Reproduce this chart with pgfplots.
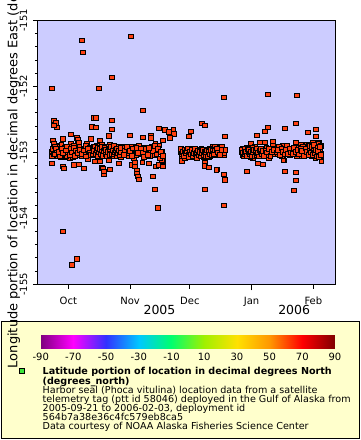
\documentclass[border=0pt]{standalone}
\usepackage{pgfplots}
\usepackage{pgfplotstable}
\pgfplotsset{compat=1.18}
\usepackage{fontspec}
\setmainfont{DejaVu Sans}
\definecolor{bgblue}{RGB}{204,204,255}
\definecolor{legyellow}{RGB}{255,255,204}
\definecolor{markred}{RGB}{255,64,16}
\definecolor{leggreen}{RGB}{60,230,60}

% day = days since 2005-10-01, lon = degrees East
\pgfplotstableread{
day lon
6.73 -151.303
7.38 -151.485
31.33 -151.242
-8.33 -152.030
15.26 -152.030
21.94 -151.864
37.35 -152.364
-7.33 -152.515
-6.02 -152.555
-5.67 -152.621
-7.33 -152.591
12.90 -152.474
13.91 -152.474
11.90 -152.615
13.75 -152.621
21.94 -152.515
21.94 -152.652
20.28 -152.747
30.82 -152.742
37.35 -152.773
41.52 -152.747
41.52 -152.785
45.38 -152.636
48.39 -152.656
50.55 -152.686
52.71 -152.652
53.06 -152.717
51.20 -152.782
47.54 -152.818
1.36 -152.727
-2.81 -152.797
-7.83 -152.818
-7.33 -152.868
4.37 -152.777
4.87 -152.815
5.37 -152.853
11.55 -152.797
9.54 -152.868
16.06 -152.818
-4.52 -152.894
-2.66 -152.918
1.36 -152.873
78.01 -152.167
100.10 -152.121
114.66 -152.136
61.60 -152.682
60.59 -152.758
67.12 -152.561
68.47 -152.591
78.66 -152.758
100.10 -152.621
98.74 -152.682
94.73 -152.742
108.78 -152.636
114.31 -152.561
120.33 -152.697
124.20 -152.652
124.20 -152.758
91.57 -152.864
96.23 -152.848
98.74 -152.848
102.76 -152.833
102.76 -152.894
107.78 -152.894
114.16 -152.848
116.82 -152.879
119.68 -152.879
125.70 -152.848
72.64 -152.909
75.65 -152.909
56.93 -152.955
-8.33 -153.167
-8.18 -152.985
-8.18 -153.061
-2.81 -153.212
-2.31 -153.242
3.87 -153.182
5.52 -153.182
2.71 -153.186
7.88 -153.242
9.74 -153.091
13.55 -153.136
15.91 -153.136
16.92 -153.236
17.42 -153.242
17.77 -153.323
18.07 -153.288
20.78 -153.258
20.28 -153.121
25.30 -153.167
31.98 -153.186
33.33 -153.152
33.33 -153.212
34.34 -153.273
34.34 -153.318
34.84 -153.364
35.49 -153.409
37.15 -153.152
40.51 -153.167
44.03 -153.212
45.38 -153.186
47.39 -153.212
47.39 -153.136
42.37 -153.364
43.67 -153.561
45.03 -153.848
-2.81 -154.197
4.37 -154.611
1.71 -154.712
57.08 -153.126
68.47 -153.152
68.27 -153.202
70.63 -153.227
70.63 -153.076
74.65 -153.258
74.30 -153.262
78.01 -153.333
78.51 -153.409
78.66 -153.414
68.47 -153.561
78.01 -153.803
89.71 -153.288
95.08 -153.167
97.59 -153.182
100.60 -153.091
108.28 -153.121
107.93 -153.111
108.63 -153.288
114.16 -153.303
114.16 -153.424
113.30 -153.576
127.01 -153.136
127.01 -153.061
75.5 -152.933
78.0 -153.035
78.3 -153.000
92.7 -153.085
98.9 -152.985
100.6 -153.085
103.1 -152.985
105.6 -152.985
106.4 -152.933
109.8 -153.000
114.3 -152.944
116.8 -153.020
115.7 -153.060
47.0 -152.985
47.0 -153.111
45.4 -152.894
32.8 -152.909
33.6 -152.985
32.8 -153.085
38.65 -152.933
41.2 -152.985
42.9 -153.035
43.7 -152.873
28.6 -152.959
25.3 -153.035
29.5 -153.035
-4.3 -152.909
-2.3 -152.948
-2.3 -153.076
-3.7 -153.076
1.0 -153.009
1.0 -153.085
-0.65 -152.985
5.2 -152.985
5.7 -153.045
9.4 -152.974
9.7 -153.095
14.1 -152.959
-8.0 -152.95
-7.5 -153.02
-6.8 -152.91
-6.0 -152.98
-5.4 -153.05
-4.8 -152.94
-4.1 -153.00
-3.5 -152.88
-2.9 -152.97
-2.2 -153.03
-1.6 -152.93
-0.9 -153.06
-0.3 -152.99
0.4 -152.92
1.0 -153.02
1.7 -152.96
2.3 -153.07
3.0 -152.90
3.6 -153.00
4.3 -152.95
5.0 -153.04
5.6 -152.92
6.3 -152.98
7.0 -153.05
7.6 -152.94
8.3 -153.01
9.0 -152.90
9.6 -152.97
10.3 -153.03
11.0 -152.93
12.0 -152.96
12.4 -153.00
12.8 -152.92
13.2 -153.04
13.6 -152.95
14.0 -152.99
14.4 -152.90
14.8 -153.02
15.2 -152.97
15.6 -153.06
16.0 -152.93
16.4 -152.99
16.8 -152.88
17.2 -153.01
17.6 -152.95
18.0 -153.04
18.4 -152.97
18.8 -152.91
19.2 -153.00
19.6 -152.94
20.0 -153.03
20.4 -152.96
20.8 -152.89
21.2 -153.01
21.6 -152.98
22.0 -153.05
22.4 -152.93
22.8 -152.99
23.2 -152.95
23.6 -153.02
24.0 -152.91
24.4 -152.97
24.8 -153.04
25.2 -152.94
25.6 -153.00
26.0 -152.96
26.4 -153.07
26.8 -152.92
27.4 -152.99
28.2 -152.93
29.0 -153.03
29.8 -152.96
30.6 -153.06
31.4 -152.91
32.2 -153.00
33.0 -152.95
33.8 -153.04
34.6 -152.98
35.4 -152.90
36.2 -153.02
37.0 -152.96
37.8 -153.07
38.6 -152.93
39.4 -153.00
40.2 -152.97
41.0 -153.05
41.8 -152.92
42.6 -152.98
43.4 -152.90
44.2 -153.03
45.0 -152.95
45.8 -153.09
46.6 -152.99
47.4 -153.05
56.4 -153.00
56.9 -153.06
57.3 -152.97
57.8 -153.03
58.2 -152.99
58.7 -153.08
59.1 -152.96
59.6 -153.02
60.0 -153.05
60.5 -152.98
60.9 -153.01
61.4 -152.95
61.8 -153.07
62.3 -153.00
62.7 -152.97
63.2 -153.04
63.6 -152.99
64.1 -153.06
64.5 -152.96
65.0 -153.02
65.4 -152.98
65.9 -153.05
66.3 -153.00
66.8 -152.95
67.2 -153.03
67.7 -152.98
68.1 -153.07
68.6 -153.01
69.0 -152.96
69.5 -153.04
69.9 -152.99
70.4 -153.02
70.8 -152.94
71.3 -153.06
71.7 -152.98
72.2 -153.01
72.6 -152.95
73.1 -153.04
73.5 -152.92
74.0 -152.99
74.8 -153.03
75.6 -152.95
76.4 -152.98
77.2 -152.91
78.0 -153.01
78.6 -152.96
87.0 -152.99
87.4 -153.04
87.8 -152.95
88.2 -153.01
88.6 -152.97
89.0 -153.06
89.4 -152.93
89.8 -153.00
90.2 -152.96
90.6 -153.03
91.0 -152.98
91.4 -153.07
91.8 -152.94
92.2 -153.01
92.6 -152.97
93.0 -153.04
93.4 -152.99
93.8 -152.92
94.2 -153.02
94.6 -152.96
95.0 -153.05
95.4 -152.98
95.8 -153.00
96.2 -152.94
96.6 -153.03
97.0 -152.97
97.4 -153.06
97.8 -152.95
98.6 -153.01
99.4 -152.93
100.2 -153.04
101.0 -152.97
101.8 -153.00
102.6 -152.94
103.4 -153.02
104.2 -152.96
105.0 -153.03
105.8 -152.92
106.6 -152.99
107.4 -153.05
108.2 -152.95
109.0 -153.01
109.8 -152.90
110.6 -152.98
111.4 -153.04
112.2 -152.94
113.0 -153.00
113.8 -152.96
114.6 -153.05
115.4 -152.93
116.2 -152.99
117.0 -153.03
117.8 -152.91
118.6 -152.97
119.4 -153.02
120.2 -152.95
120.8 -152.88
121.2 -153.01
121.6 -152.93
122.0 -153.06
122.4 -152.97
122.8 -152.85
123.2 -153.03
123.6 -152.95
124.0 -153.09
124.4 -152.91
124.8 -153.00
125.2 -152.87
125.6 -153.04
126.0 -152.94
126.4 -152.99
126.8 -152.90
127.0 -153.02
-7.0 -153.03
-6.2 -152.94
-5.0 -152.99
-4.4 -153.06
-3.2 -152.95
-2.6 -153.01
-1.2 -152.97
-0.6 -152.91
0.7 -153.04
1.3 -152.94
2.0 -153.00
2.7 -152.93
3.3 -153.05
4.0 -152.97
4.6 -153.01
6.0 -152.96
6.6 -153.02
8.0 -152.97
8.7 -153.06
10.0 -152.95
10.7 -153.00
11.5 -153.04
12.2 -153.03
12.6 -152.94
13.0 -152.98
13.4 -152.91
13.8 -153.02
14.2 -152.96
14.6 -153.05
15.0 -152.93
15.4 -153.00
15.8 -152.95
16.2 -153.03
16.6 -152.96
17.0 -152.92
17.4 -153.05
17.8 -152.98
18.2 -152.93
18.6 -153.02
19.0 -152.96
19.4 -153.06
19.8 -152.99
20.2 -152.92
20.6 -153.04
21.0 -152.95
21.4 -152.92
21.8 -153.02
22.2 -152.97
22.6 -153.03
23.0 -152.90
23.4 -153.00
23.8 -152.96
24.2 -153.05
24.6 -152.94
25.0 -153.01
25.4 -152.97
25.8 -153.04
26.2 -152.93
26.6 -153.00
27.8 -153.04
28.6 -152.97
29.4 -152.92
30.2 -153.01
31.0 -152.98
31.8 -153.05
32.6 -152.94
34.2 -152.93
35.0 -153.01
36.6 -152.94
37.4 -153.00
39.0 -152.95
39.8 -153.04
40.6 -152.93
56.6 -152.95
57.1 -153.02
57.6 -152.99
58.0 -153.05
58.5 -152.96
58.9 -153.01
59.4 -152.98
59.8 -152.94
60.3 -153.04
60.7 -153.07
61.1 -152.99
61.6 -153.03
62.0 -152.96
62.5 -153.05
62.9 -153.01
63.4 -152.95
63.8 -153.03
64.3 -153.00
64.7 -153.08
65.2 -152.97
65.6 -153.04
66.1 -152.99
66.5 -153.06
67.0 -153.01
67.4 -152.96
67.9 -153.04
68.3 -152.99
68.8 -153.05
69.2 -153.00
69.7 -152.97
70.1 -153.06
70.6 -152.99
71.0 -153.03
71.5 -152.96
71.9 -153.04
72.4 -152.98
72.9 -153.02
73.3 -152.97
74.4 -152.95
75.2 -153.00
76.0 -153.04
76.8 -152.96
87.2 -152.96
87.6 -153.01
88.0 -153.06
88.4 -152.94
88.8 -153.02
89.2 -152.99
89.6 -153.05
90.0 -152.95
90.4 -153.00
90.8 -152.96
91.2 -153.02
91.6 -152.99
92.0 -153.05
92.4 -152.93
92.8 -153.00
93.2 -152.96
93.6 -153.06
94.0 -152.98
94.4 -153.04
94.8 -152.94
95.2 -153.01
95.6 -153.06
96.0 -152.97
96.4 -153.00
96.8 -152.95
97.2 -153.02
97.6 -152.98
98.2 -153.05
99.0 -152.97
99.8 -153.00
100.6 -152.95
101.4 -153.05
102.2 -152.99
103.0 -152.96
104.6 -153.00
105.4 -152.96
106.2 -153.04
107.0 -152.94
107.8 -152.99
108.6 -153.03
109.4 -152.96
110.2 -153.02
111.0 -152.94
111.8 -153.00
112.6 -153.02
113.4 -152.93
114.2 -152.99
115.0 -152.96
115.8 -153.03
116.6 -152.95
117.4 -152.98
118.2 -153.05
119.0 -152.94
119.8 -152.99
120.5 -153.04
121.0 -152.96
121.4 -152.90
121.8 -153.00
122.2 -152.92
122.6 -153.04
123.0 -152.97
123.4 -152.89
123.8 -153.01
124.2 -152.96
124.6 -153.06
125.0 -152.93
125.4 -152.98
125.8 -153.07
126.2 -152.92
126.6 -153.04
}\sealdata

\begin{document}
\begin{tikzpicture}[x=1pt,y=1pt]
\useasboundingbox (0,0) rectangle (360,440);
\fill[white] (0,0) rectangle (360,440);
\draw[black, line width=0.9pt, fill=legyellow] (1,1.7) rectangle (359,118.3);

\begin{axis}[
  at={(37.7pt,155.7pt)}, anchor=south west,
  width=298pt, height=263.8pt, scale only axis,
  xmin=-15.36, xmax=134.2, ymin=-155, ymax=-151,
  axis background/.style={fill=bgblue},
  axis line style={line width=1pt},
  xtick={0,31,61,92,123}, xticklabels={Oct,Nov,Dec,Jan,Feb},
  extra x ticks={92}, extra x tick labels={},
  extra x tick style={major tick length=6pt, tick style={line width=1.6pt}},
  ytick={-155,-154,-153,-152,-151},
  yticklabels={-155,-154,-153,-152,-151},
  minor y tick num=4,
  xtick pos=left, ytick pos=left,
  tick align=outside,
  major tick length=4.5pt, minor tick length=2.7pt,
  tick style={line width=0.9pt, black},
  tick label style={font=\fontsize{10}{12}\selectfont},
  xticklabel style={anchor=base, inner sep=0pt},
  xticklabel shift=16.2pt,
  yticklabel style={rotate=90, anchor=base, inner sep=0pt},
  yticklabel shift=6pt,
  clip=false,
]
\addplot[only marks, mark=square*, mark size=2.4pt,
  mark options={draw=black, fill=markred, line width=0.85pt}]
  table[x=day, y=lon] {\sealdata};
\end{axis}

\begin{axis}[
  at={(40.7pt,91.7pt)}, anchor=south west,
  width=294.3pt, height=13.3pt, scale only axis,
  view={0}{90},
  xmin=-90, xmax=90, ymin=0, ymax=1, zmin=-1, zmax=1,
  axis line style={draw=none},
  ytick=\empty, ztick=\empty,
  xtick={-90,-70,-50,-30,-10,10,30,50,70,90},
  xticklabels={-90,-70,-50,-30,-10,10,30,50,70,90},
  major tick length=0pt,
  tick label style={font=\fontsize{10}{12}\selectfont},
  xticklabel style={anchor=base, inner sep=0pt},
  xticklabel shift=12.4pt,
  colormap={erd}{rgb255=(128,0,128) rgb255=(255,0,255) rgb255=(50,50,255)
    rgb255=(0,200,255) rgb255=(0,255,110) rgb255=(160,240,0)
    rgb255=(255,225,0) rgb255=(255,150,0) rgb255=(255,0,0) rgb255=(128,0,0)},
  point meta min=-90, point meta max=90,
  legend style={at={(-0.07442,-1.4586)}, anchor=north west, draw=none, fill=none,
    inner sep=0pt, outer sep=0pt, nodes={inner sep=0pt}, column sep=18.1pt},
  legend cell align=left,
]
\addlegendimage{legend image code/.code={\draw[black, fill=leggreen, line width=0.8pt] (-2.5pt,-1.5pt) rectangle (2.5pt,3.5pt);}}
\addlegendentry{\parbox[t]{330pt}{\fontsize{9.6}{9.1}\selectfont\lineskiplimit=-20pt\lineskip=0pt\bfseries Latitude portion of location in decimal degrees North\\(degrees\_north)\\\mdseries Harbor seal (Phoca vitulina) location data from a satellite\\telemetry tag (ptt id 58046) deployed in the Gulf of Alaska from\\2005-09-21 to 2006-02-03, deployment id\\564b7a38e36c4fc579eb8ca5\\Data courtesy of NOAA Alaska Fisheries Science Center}}
\addplot3[surf, shader=interp, point meta=x, mesh/rows=2, forget plot] coordinates {
(-90,0,0) (-70,0,0) (-50,0,0) (-30,0,0) (-10,0,0) (10,0,0) (30,0,0) (50,0,0) (70,0,0) (90,0,0)
(-90,1,0) (-70,1,0) (-50,1,0) (-30,1,0) (-10,1,0) (10,1,0) (30,1,0) (50,1,0) (70,1,0) (90,1,0)
};
\end{axis}

\node[rotate=90, anchor=base west, inner sep=0pt, font=\fontsize{13}{15}\selectfont] at (17.4,71.7) {Longitude portion of location in decimal degrees East (degrees\_east)};
\node[anchor=base, inner sep=0pt, font=\fontsize{12.5}{15}\selectfont] at (159.5,125) {2005};
\node[anchor=base, inner sep=0pt, font=\fontsize{12.5}{15}\selectfont] at (294.2,125) {2006};
\end{tikzpicture}
\end{document}
